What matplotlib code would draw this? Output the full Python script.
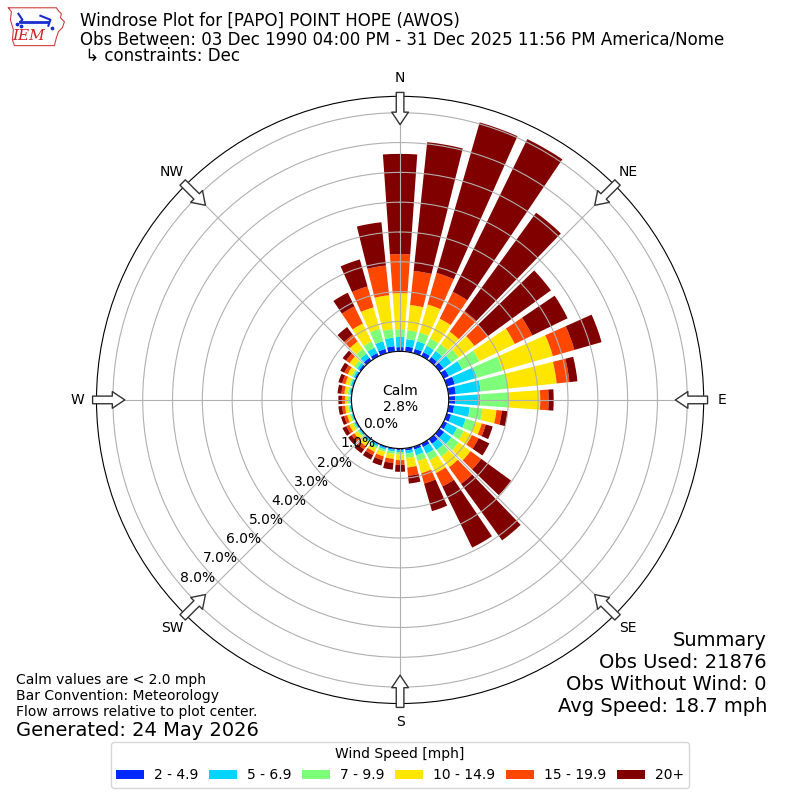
import numpy as np
import matplotlib
matplotlib.use("Agg")
import matplotlib.pyplot as plt

# direction bins (deg, meteorological, from north clockwise)
directions = np.arange(0, 360, 10)
speed_labels = ["2 - 4.9", "5 - 6.9", "7 - 9.9", "10 - 14.9", "15 - 19.9", "20+"]

# percent of obs per direction bin, one list per speed bin
pct_2_5 = [0.14, 0.17, 0.15, 0.15, 0.15, 0.17, 0.19, 0.28, 0.25, 0.22, 0.19, 0.15,
           0.13, 0.20, 0.19, 0.13, 0.10, 0.08, 0.05, 0.05, 0.05, 0.04, 0.04, 0.04,
           0.04, 0.03, 0.03, 0.03, 0.04, 0.04, 0.05, 0.07, 0.12, 0.12, 0.15, 0.18]
pct_5_7 = [0.34, 0.25, 0.27, 0.24, 0.25, 0.33, 0.50, 0.77, 0.84, 0.84, 0.53, 0.51,
           0.37, 0.30, 0.26, 0.25, 0.20, 0.10, 0.07, 0.06, 0.06, 0.06, 0.05, 0.04,
           0.04, 0.04, 0.04, 0.04, 0.04, 0.05, 0.06, 0.09, 0.17, 0.20, 0.27, 0.29]
pct_7_10 = [0.26, 0.30, 0.30, 0.27, 0.28, 0.30, 0.64, 0.89, 0.91, 0.94, 0.43, 0.33,
            0.25, 0.30, 0.27, 0.24, 0.20, 0.15, 0.08, 0.08, 0.07, 0.07, 0.07, 0.06,
            0.06, 0.05, 0.05, 0.05, 0.05, 0.06, 0.07, 0.11, 0.20, 0.23, 0.43, 0.29]
pct_10_15 = [1.21, 0.85, 0.98, 0.74, 0.52, 0.65, 1.32, 1.76, 1.65, 1.07, 0.47, 0.23,
             0.30, 0.49, 0.44, 0.48, 0.43, 0.32, 0.19, 0.17, 0.16, 0.14, 0.14, 0.13,
             0.13, 0.10, 0.11, 0.10, 0.12, 0.13, 0.15, 0.20, 0.30, 0.67, 0.75, 1.14]
pct_15_20 = [1.31, 1.15, 1.10, 1.00, 0.85, 0.55, 0.65, 0.75, 0.43, 0.28, 0.18, 0.14,
             0.25, 0.44, 0.69, 0.50, 0.36, 0.28, 0.16, 0.14, 0.13, 0.12, 0.12, 0.11,
             0.11, 0.10, 0.10, 0.10, 0.10, 0.11, 0.12, 0.14, 0.28, 0.64, 0.73, 1.00]
pct_20p = [3.36, 4.34, 5.25, 5.70, 4.08, 2.62, 1.32, 0.95, 0.27, 0.17, 0.20, 0.24,
           0.40, 1.24, 2.34, 2.28, 0.96, 0.26, 0.23, 0.22, 0.19, 0.17, 0.16, 0.14,
           0.14, 0.11, 0.12, 0.12, 0.13, 0.13, 0.15, 0.14, 0.32, 0.51, 0.94, 1.46]

calm_pct = 2.8
obs_used = 21876
obs_nowind = 0
avg_speed = 18.7

series = [pct_2_5, pct_5_7, pct_7_10, pct_10_15, pct_15_20, pct_20p]
colors = plt.get_cmap("jet")(np.linspace(0, 1, 7))[1:]

fig = plt.figure(figsize=(8, 8), dpi=100)
ax = fig.add_axes([0.1206, 0.1206, 0.759, 0.759], projection="polar")
ax.set_theta_zero_location("N")
ax.set_theta_direction(-1)

theta = np.radians(directions)
bottom = np.zeros(len(directions))
for vals, col, lab in zip(series, colors, speed_labels):
    vals = np.array(vals)
    ax.bar(theta, vals, width=np.radians(8), bottom=bottom, color=col,
           label=lab, align="center", linewidth=0)
    bottom = bottom + vals

ax.set_rorigin(-1.63)
ax.set_ylim(0, 8.55)
rt = np.arange(0, 9)
ax.set_yticks(rt)
ax.set_yticklabels([f"{v:.1f}%" for v in rt], fontsize=10)
ax.set_rlabel_position(230)
ax.set_xticks(np.radians(np.arange(0, 360, 45)))
ax.set_xticklabels(["N", "NE", "E", "SE", "S", "SW", "W", "NW"], fontsize=10)
ax.tick_params(axis="x", pad=3)
ax.grid(True, color="#b0b0b0", lw=0.8)

# flow arrows at rim
for d in np.arange(0, 360, 45):
    ax.annotate("", xy=(np.radians(d), 7.6), xytext=(np.radians(d), 8.68),
                arrowprops=dict(arrowstyle="simple,head_length=0.9,head_width=1.2,tail_width=0.55",
                                fc="white", ec="#333333", lw=1, mutation_scale=10,
                                shrinkA=0, shrinkB=0),
                annotation_clip=False)

ax.text(0.5, 0.502, f"Calm\n{calm_pct:.1f}%", transform=ax.transAxes,
        ha="center", va="center", fontsize=10)

# header
fig.text(0.1, 1 - 21 / 800, "Windrose Plot for [PAPO] POINT HOPE (AWOS)",
         fontsize=12, va="center")
fig.text(0.1, 1 - 39 / 800,
         "Obs Between: 03 Dec 1990 04:00 PM - 31 Dec 2025 11:56 PM America/Nome",
         fontsize=12, va="center")
fig.text(0.1, 1 - 56 / 800, " \u21b3 constraints: Dec", fontsize=12, va="center")

# logo
lax = fig.add_axes([0.008, 0.938, 0.075, 0.056])
lax.set_xlim(0, 60)
lax.set_ylim(0, 45)
lax.axis("off")
ox = [2, 50, 52, 55, 54, 58, 56, 52, 50, 48, 8, 6, 7, 4, 5, 2]
oy = [42, 42, 39, 36, 32, 28, 22, 18, 12, 4, 4, 10, 20, 30, 38, 42]
lax.plot(ox, oy, color="#d04040", lw=0.8)
lax.plot([14, 42], [28, 28], color="#1a2ed0", lw=2)
lax.plot([12, 16, 14], [36, 30, 28], color="#1a2ed0", lw=1.5)
lax.plot([34, 44, 42], [34, 30, 24], color="#1a2ed0", lw=1.5)
lax.scatter([11, 15, 46], [26, 24, 22], s=3, color="#1a2ed0")
lax.text(6, 14, "IEM", color="#d02020", fontsize=11, family="serif",
         style="italic", va="center")

# footer notes
fig.text(16 / 800, 1 - 680 / 800, "Calm values are < 2.0 mph", fontsize=10, va="center")
fig.text(16 / 800, 1 - 696 / 800, "Bar Convention: Meteorology", fontsize=10, va="center")
fig.text(16 / 800, 1 - 712 / 800, "Flow arrows relative to plot center.", fontsize=10, va="center")
fig.text(16 / 800, 1 - 730 / 800, "Generated: 24 May 2026", fontsize=14, va="center")

fig.text(767 / 800, 1 - 640 / 800, "Summary", fontsize=14, ha="right", va="center")
fig.text(767 / 800, 1 - 662 / 800, f"Obs Used: {obs_used}", fontsize=14, ha="right", va="center")
fig.text(767 / 800, 1 - 684 / 800, f"Obs Without Wind: {obs_nowind}", fontsize=14,
         ha="right", va="center")
fig.text(767 / 800, 1 - 706 / 800, f"Avg Speed: {avg_speed} mph", fontsize=14,
         ha="right", va="center")

fig.legend(loc="lower center", bbox_to_anchor=(0.5, 0.0065), ncol=6,
           title="Wind Speed [mph]", fontsize=10, title_fontsize=10,
           columnspacing=0.8, handletextpad=0.7)

fig.savefig("out.png", dpi=100)
